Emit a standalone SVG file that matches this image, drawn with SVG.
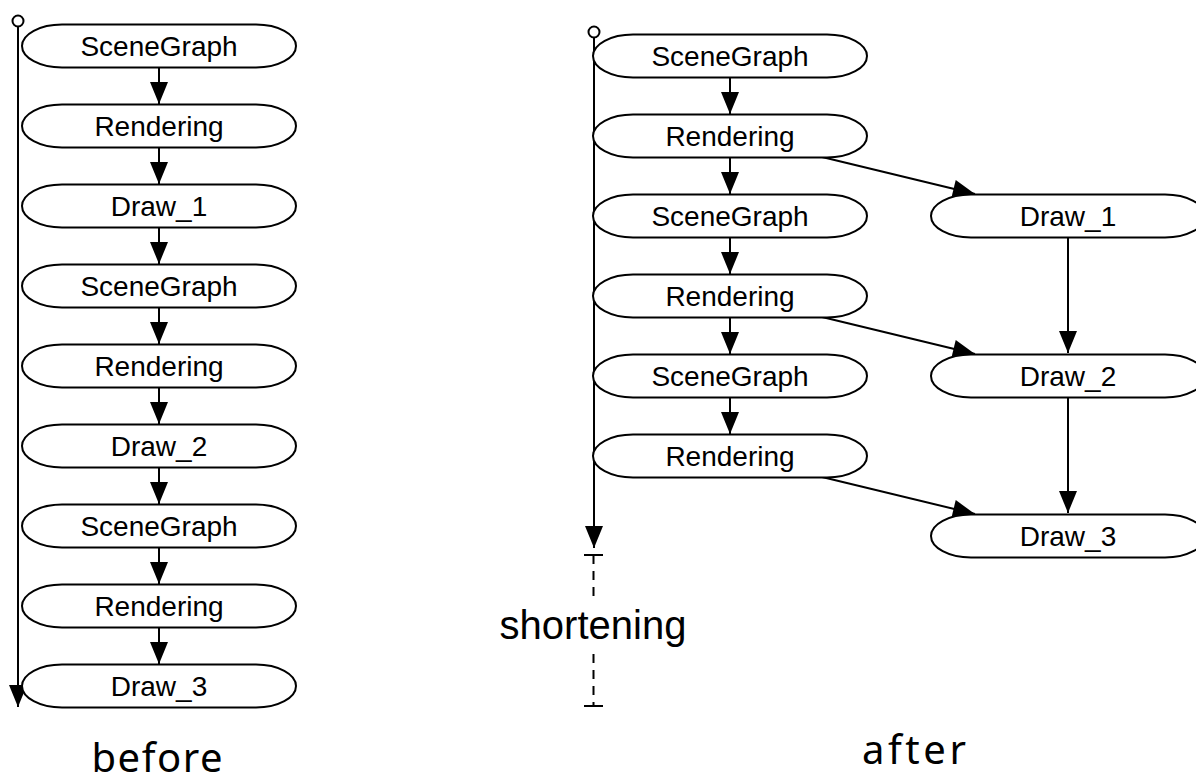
<svg xmlns="http://www.w3.org/2000/svg" xmlns:xlink="http://www.w3.org/1999/xlink" width="1196" height="782" viewBox="0 0 1196 782">
  <style>
    .pill { fill: #fff; stroke: #000; stroke-width: 2; }
    .lbl { font-family: "Liberation Sans", Arial, sans-serif; font-size: 28px; text-anchor: middle; fill: #000; }
    .edge { fill: none; stroke: #000; stroke-width: 2; marker-end: url(#arrow); }
    .axis { fill: none; stroke: #000; stroke-width: 2; }
    .dash { fill: none; stroke: #000; stroke-width: 2; stroke-dasharray: 9 7; }
    .cap { font-family: "Noto Sans", "Liberation Sans", sans-serif; font-size: 40px; text-anchor: middle; fill: #000; }
    .note { font-family: "Liberation Sans", Arial, sans-serif; font-size: 40px; text-anchor: middle; fill: #000; }
  </style>
  <defs>
    <!-- pill-shaped node, 274 x 43, centred on the origin -->
    <path id="pill" class="pill" d="M-97,-21.5 H97 A40,21.5 0 0 1 97,21.5 H-97 A40,21.5 0 0 1 -97,-21.5 Z"/>
    <marker id="arrow" markerUnits="userSpaceOnUse" markerWidth="22" markerHeight="18" refX="22" refY="9" orient="auto" overflow="visible">
      <path d="M0,0 L22,9 L0,18 Z" fill="#000"/>
    </marker>
  </defs>
  <rect width="1196" height="782" fill="#fff"/>

  <!-- timelines -->
  <g id="timelines">
    <circle class="axis" cx="18" cy="21" r="5.5"/>
    <line class="edge" x1="18" y1="26.5" x2="18" y2="707"/>
    <circle class="axis" cx="594" cy="32" r="5.5"/>
    <line class="edge" x1="594" y1="37.5" x2="594" y2="548"/>
    <!-- shortening span -->
    <line class="axis" x1="584" y1="555" x2="603" y2="555"/>
    <line class="axis" x1="584" y1="706" x2="603" y2="706"/>
    <line class="dash" x1="593.5" y1="555" x2="593.5" y2="603"/>
    <line class="dash" x1="593.5" y1="654" x2="593.5" y2="706"/>
  </g>

  <!-- connectors -->
  <g id="connectors">
    <!-- before: sequential chain -->
    <line class="edge" x1="159" y1="67.5" x2="159" y2="104"/>
    <line class="edge" x1="159" y1="147.5" x2="159" y2="184"/>
    <line class="edge" x1="159" y1="227.5" x2="159" y2="264"/>
    <line class="edge" x1="159" y1="307.5" x2="159" y2="344"/>
    <line class="edge" x1="159" y1="387.5" x2="159" y2="424"/>
    <line class="edge" x1="159" y1="467.5" x2="159" y2="504"/>
    <line class="edge" x1="159" y1="547.5" x2="159" y2="584"/>
    <line class="edge" x1="159" y1="627.5" x2="159" y2="664"/>
    <!-- after: main chain -->
    <line class="edge" x1="730" y1="77.5" x2="730" y2="114"/>
    <line class="edge" x1="730" y1="157.5" x2="730" y2="194"/>
    <line class="edge" x1="730" y1="237.5" x2="730" y2="274"/>
    <line class="edge" x1="730" y1="317.5" x2="730" y2="354"/>
    <line class="edge" x1="730" y1="397.5" x2="730" y2="434"/>
    <!-- after: draw chain -->
    <line class="edge" x1="1068" y1="237.5" x2="1068" y2="353"/>
    <line class="edge" x1="1068" y1="397.5" x2="1068" y2="513"/>
    <!-- after: rendering to draw -->
    <line class="edge" x1="820" y1="156.5" x2="975" y2="194"/>
    <line class="edge" x1="820" y1="316.5" x2="975" y2="354"/>
    <line class="edge" x1="820" y1="476.5" x2="975" y2="514"/>
  </g>

  <!-- before column -->
  <g id="b-scenegraph-1"><use xlink:href="#pill" x="159" y="46"/><text class="lbl" x="159" y="55.5">SceneGraph</text></g>
  <g id="b-rendering-1"><use xlink:href="#pill" x="159" y="126"/><text class="lbl" x="159" y="135.5">Rendering</text></g>
  <g id="b-draw-1"><use xlink:href="#pill" x="159" y="206"/><text class="lbl" x="159" y="215.5">Draw_1</text></g>
  <g id="b-scenegraph-2"><use xlink:href="#pill" x="159" y="286"/><text class="lbl" x="159" y="295.5">SceneGraph</text></g>
  <g id="b-rendering-2"><use xlink:href="#pill" x="159" y="366"/><text class="lbl" x="159" y="375.5">Rendering</text></g>
  <g id="b-draw-2"><use xlink:href="#pill" x="159" y="446"/><text class="lbl" x="159" y="455.5">Draw_2</text></g>
  <g id="b-scenegraph-3"><use xlink:href="#pill" x="159" y="526"/><text class="lbl" x="159" y="535.5">SceneGraph</text></g>
  <g id="b-rendering-3"><use xlink:href="#pill" x="159" y="606"/><text class="lbl" x="159" y="615.5">Rendering</text></g>
  <g id="b-draw-3"><use xlink:href="#pill" x="159" y="686"/><text class="lbl" x="159" y="695.5">Draw_3</text></g>

  <!-- after: main column -->
  <g id="a-scenegraph-1"><use xlink:href="#pill" x="730" y="56"/><text class="lbl" x="730" y="65.5">SceneGraph</text></g>
  <g id="a-rendering-1"><use xlink:href="#pill" x="730" y="136"/><text class="lbl" x="730" y="145.5">Rendering</text></g>
  <g id="a-scenegraph-2"><use xlink:href="#pill" x="730" y="216"/><text class="lbl" x="730" y="225.5">SceneGraph</text></g>
  <g id="a-rendering-2"><use xlink:href="#pill" x="730" y="296"/><text class="lbl" x="730" y="305.5">Rendering</text></g>
  <g id="a-scenegraph-3"><use xlink:href="#pill" x="730" y="376"/><text class="lbl" x="730" y="385.5">SceneGraph</text></g>
  <g id="a-rendering-3"><use xlink:href="#pill" x="730" y="456"/><text class="lbl" x="730" y="465.5">Rendering</text></g>

  <!-- after: draw column -->
  <g id="a-draw-1"><use xlink:href="#pill" x="1068" y="216"/><text class="lbl" x="1068" y="225.5">Draw_1</text></g>
  <g id="a-draw-2"><use xlink:href="#pill" x="1068" y="376"/><text class="lbl" x="1068" y="385.5">Draw_2</text></g>
  <g id="a-draw-3"><use xlink:href="#pill" x="1068" y="536"/><text class="lbl" x="1068" y="545.5">Draw_3</text></g>

  <!-- labels -->
  <text class="note" x="593" y="639">shortening</text>
  <text class="cap" x="157" y="772" textLength="131" lengthAdjust="spacing">before</text>
  <text class="cap" x="914" y="764" textLength="104" lengthAdjust="spacing">after</text>
</svg>
